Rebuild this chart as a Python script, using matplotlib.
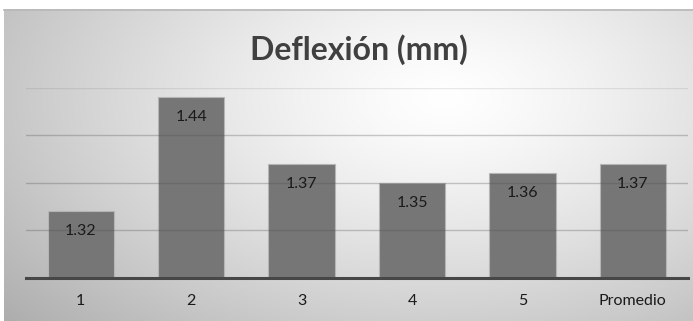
import numpy as np
import matplotlib
matplotlib.use("Agg")
import matplotlib.pyplot as plt

categories = ["1", "2", "3", "4", "5", "Promedio"]
deflexion = [1.32, 1.44, 1.37, 1.35, 1.36, 1.37]
value_labels = ["1.32", "1.44", "1.37", "1.35", "1.36", "1.37"]
title = "Deflexión (mm)"

plt.rcParams["font.family"] = ["Lato", "DejaVu Sans"]

W, H = 693, 321
fig = plt.figure(figsize=(W / 100, H / 100), dpi=100)
fig.patch.set_facecolor("white")

# chart area with a soft radial gradient
bg = fig.add_axes([4 / W, 0, (W - 4) / W, (H - 9) / H])
ny, nx = 200, 440
yy, xx = np.mgrid[0:1:ny * 1j, 0:1:nx * 1j]
r = np.sqrt(((xx - 0.64) / 0.75) ** 2 + ((yy - 0.28) / 0.95) ** 2)
shade = 1.0 - 0.27 * np.clip(r, 0, 1.2) ** 1.3
bg.imshow(np.dstack([shade] * 3), extent=[0, 1, 1, 0], aspect="auto",
          interpolation="bilinear")
bg.set_xlim(0, 1)
bg.set_ylim(1, 0)
bg.axis("off")
fig.add_artist(plt.Line2D([4 / W, 1], [1 - 9.5 / H, 1 - 9.5 / H],
                          transform=fig.transFigure, color="#b8b8b8", lw=1.2))

ax = fig.add_axes([25.6 / W, (H - 277.7) / H, (688 - 25.6) / W, (277.7 - 88) / H])
ax.set_facecolor("none")
x = np.arange(len(categories))
ax.bar(x, deflexion, width=0.6, bottom=0, color="#767676",
       edgecolor="#b5b5b5", linewidth=0.8, zorder=2)
ax.set_ylim(1.25, 1.45)
ax.set_xlim(-0.5, len(categories) - 0.5)

for gy, a in [(1.30, 0.3), (1.35, 0.3), (1.40, 0.3), (1.45, 0.12)]:
    ax.axhline(gy, color="#505050", alpha=a, lw=1.0, zorder=3)

for xi, v, lab in zip(x, deflexion, value_labels):
    ax.annotate(lab, (xi, v), xytext=(0, -20), textcoords="offset pixels",
                ha="center", va="center", fontsize=11.5, color="#1a1a1a", zorder=4)

for s in ["top", "right", "left"]:
    ax.spines[s].set_visible(False)
ax.spines["bottom"].set_color("#474747")
ax.spines["bottom"].set_linewidth(2.2)
ax.spines["bottom"].set_zorder(5)
ax.set_yticks([])
ax.set_xticks(x)
ax.set_xticklabels(categories, fontsize=11.5, color="#1a1a1a")
ax.tick_params(axis="x", length=0, pad=12)

fig.text(358.7 / W, 1 - 50 / H, title, ha="center", va="center",
         fontsize=23, fontweight="bold", color="#404040")

fig.savefig("out.png", dpi=100)
